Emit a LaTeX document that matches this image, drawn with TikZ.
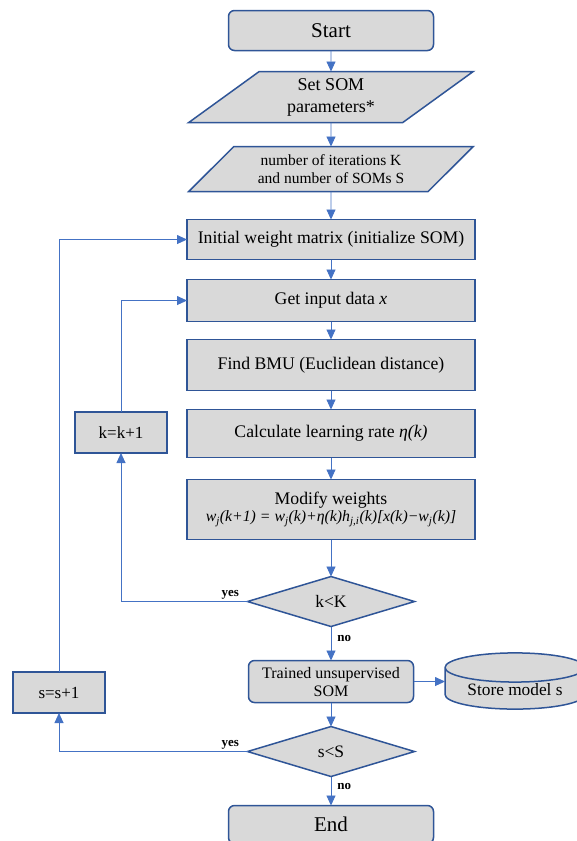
\documentclass[tikz,border=0pt]{standalone}
\usepackage{fontspec}
\setmainfont{Liberation Serif}
\usetikzlibrary{
  shapes.geometric,
  arrows.meta,
  positioning,  % Function "of" (e.g. [below=of x])
}
\definecolor{boxblue}{RGB}{47,85,151}
\definecolor{lineblue}{RGB}{68,114,196}
\definecolor{boxgray}{RGB}{217,217,217}
\def\mywidth{288pt}
\def\mysmall{92pt}
\tikzset{
  my base/.style={
    draw=boxblue,
    fill=boxgray,
    line width=1.5pt,
    outer sep=0pt,
    align=center,
    inner sep=1pt
  },
  my term/.style={
    my base,
    rectangle,
    rounded corners=6pt,
    minimum width=205pt,
    minimum height=40pt,
    font=\fontsize{21}{24}\selectfont
  },
  my io/.style={
    my base,
    trapezium,
    trapezium left angle=42,
    trapezium right angle=138,
    trapezium stretches=true,
    minimum width=285pt
  },
  my box/.style={
    my base,
    rectangle,
    minimum width=\mywidth,
    minimum height=42pt,
    font=\fontsize{17.7}{20}\selectfont
  },
  my step/.style={
    my box,
    minimum width=\mysmall,
    minimum height=41pt,
    font=\fontsize{17}{20}\selectfont
  },
  my decision/.style={
    my base,
    diamond,
    minimum width=167pt,
    minimum height=50pt,
    font=\fontsize{17.5}{20}\selectfont
  },
  my store/.style={
    my base,
    cylinder,
    shape border rotate=90,
    aspect=0.3,
    cylinder uses custom fill,
    cylinder body fill=boxgray,
    cylinder end fill=boxgray,
    minimum width=140pt,
    minimum height=52pt,
    font=\fontsize{17.3}{20}\selectfont
  },
  flow/.style={
    draw=lineblue,
    line width=0.9pt,
    -{Triangle[width=9pt,length=10pt]}
  },
  answer/.style={
    font=\bfseries\fontsize{13}{15}\selectfont,
    inner sep=2pt
  }
}

\begin{document}
\begin{tikzpicture}[x=1pt,y=-1pt]
\useasboundingbox (0,0) rectangle (576,841);
% main column
\node[my term] (start) at (331,30.5) {Start};
\node[my io, minimum height=51pt, font=\fontsize{18}{22}\selectfont]
  (param) [below=21pt of start] {Set SOM\\parameters*};
\node[my io, minimum height=45pt, font=\fontsize{15.5}{18}\selectfont]
  (iter) [below=24pt of param] {number of iterations K\\and number of SOMs S};
\node[my box, minimum height=40pt] (init) [below=28pt of iter]
  {Initial weight matrix (initialize SOM)};
\node[my box] (getx) [below=20pt of init] {Get input data \textit{x}};
\node[my box, minimum height=51pt] (bmu) [below=18pt of getx]
  {Find BMU (Euclidean distance)};
\node[my box, minimum height=48pt] (rate) [below=19pt of bmu]
  {Calculate learning rate \textit{η(k)}};
\node[my box, minimum height=60pt] (modify) [below=22pt of rate]
  {Modify weights\\[-3pt]
   {\fontsize{15.8}{18}\selectfont\itshape
    w\textsubscript{j}(k+1) = w\textsubscript{j}(k)+η(k)h\textsubscript{j,i}(k)[x(k)−w\textsubscript{j}(k)]}};
\node[my decision] (kK) [below=37pt of modify] {k<K};
\node[my term, minimum width=165pt, minimum height=42pt, font=\fontsize{16}{18}\selectfont]
  (trained) [below=34pt of kK] {Trained unsupervised\\SOM};
\node[my decision] (sS) [below=24pt of trained] {s<S};
\node[my term, minimum height=38pt] (end) [below=29pt of sS] {End};
% side nodes
\node[my step] (kinc) at (121,432.5) {k=k+1};
\node[my step] (sinc) at (59,692.5) {s=s+1};
\node[my store, anchor=shape center] (store) at (515,681) {Store model s};
% connectors
\draw[flow] (start) -- (param);
\draw[flow] (param) -- (iter);
\draw[flow] (iter) -- (init);
\draw[flow] (init) -- (getx);
\draw[flow] (getx) -- (bmu);
\draw[flow] (bmu) -- (rate);
\draw[flow] (rate) -- (modify);
\draw[flow] (modify) -- (kK);
\draw[flow] (kK) -- node[answer, right=4pt, pos=0.35] {no} (trained);
\draw[flow] (trained) -- (sS);
\draw[flow] (sS) -- node[answer, right=4pt, pos=0.35] {no} (end);
\draw[flow] (trained.east) -- (trained.east -| store.west);
\draw[flow] (kK.west) node[answer, anchor=south east, xshift=-6pt] {yes} -| (kinc.south);
\draw[flow] (kinc.north) |- (getx.west);
\draw[flow] (sS.west) node[answer, anchor=south east, xshift=-6pt] {yes} -| (sinc.south);
\draw[flow] (sinc.north) |- (init.west);
\end{tikzpicture}
\end{document}
